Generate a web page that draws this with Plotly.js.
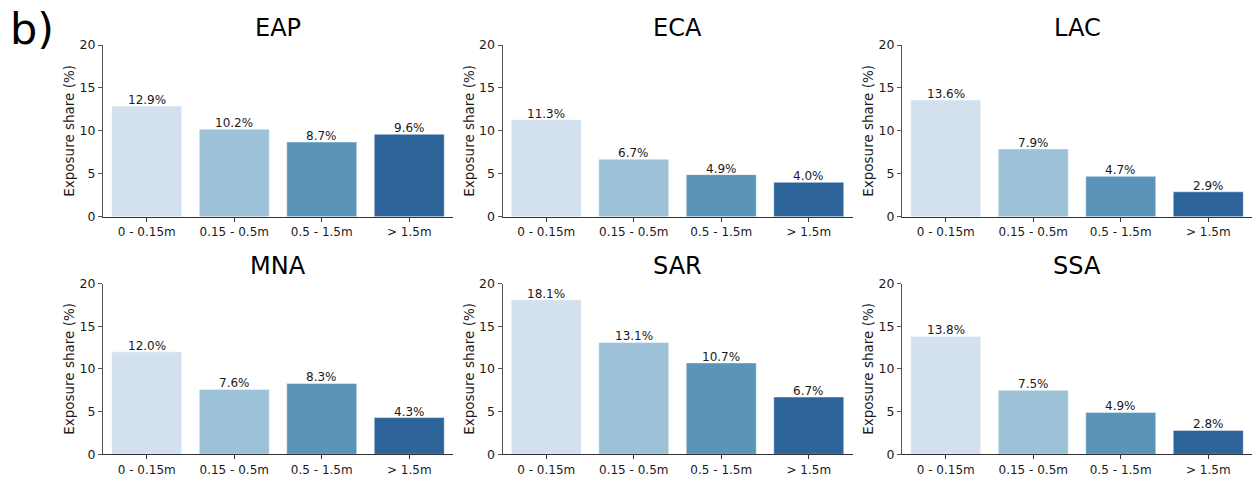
<!DOCTYPE html>
<html>
<head>
<meta charset="utf-8">
<script src="https://cdn.plot.ly/plotly-3.0.1.min.js"></script>
<style>html,body{margin:0;padding:0;background:#fff;}#chart{width:1256px;height:481px;}</style>
</head>
<body>
<div id="chart"></div>
<script>
// ---- data ----
const regions = ['EAP', 'ECA', 'LAC', 'MNA', 'SAR', 'SSA'];
const categories = ['0 - 0.15m', '0.15 - 0.5m', '0.5 - 1.5m', '> 1.5m'];
const EAP = [12.9, 10.2, 8.7, 9.6];
const ECA = [11.3, 6.7, 4.9, 4.0];
const LAC = [13.6, 7.9, 4.7, 2.9];
const MNA = [12.0, 7.6, 8.3, 4.3];
const SAR = [18.1, 13.1, 10.7, 6.7];
const SSA = [13.8, 7.5, 4.9, 2.8];
const yTicks = [0, 5, 10, 15, 20];
const panelLabel = 'b)';
const yTitle = 'Exposure share (%)';

// ---- style ----
const palette = ['#d3e1ee', '#9dc2d7', '#5b94b9', '#2c6399'];
const W = 1256, H = 481;
const colsPx = [[103, 453], [502.5, 852.5], [902, 1252]];
const rowsPx = [[45, 216.7], [283.5, 454.3]];
const FONT = 'DejaVu Sans, Verdana, sans-serif';

const series = [EAP, ECA, LAC, MNA, SAR, SSA];
const traces = [];
const layout = {
  width: W, height: H,
  margin: {l: 0, r: 0, t: 0, b: 0},
  paper_bgcolor: '#ffffff', plot_bgcolor: '#ffffff',
  showlegend: false,
  font: {family: FONT, color: '#1a1a1a', size: 12},
  annotations: []
};

series.forEach((vals, i) => {
  const r = Math.floor(i / 3), c = i % 3;
  const n = i + 1;
  const xa = 'x' + (n === 1 ? '' : n), ya = 'y' + (n === 1 ? '' : n);
  const xkey = 'xaxis' + (n === 1 ? '' : n), ykey = 'yaxis' + (n === 1 ? '' : n);
  traces.push({
    type: 'bar', x: categories, y: vals, xaxis: xa, yaxis: ya,
    width: 0.8,
    marker: {color: palette, line: {color: 'rgba(255,255,255,0.45)', width: 1}},
    hoverinfo: 'x+y'
  });
  const dom = [colsPx[c][0] / W, colsPx[c][1] / W];
  const ydom = [1 - rowsPx[r][1] / H, 1 - rowsPx[r][0] / H];
  layout[xkey] = {
    domain: dom, anchor: ya, type: 'category', range: [-0.5, 3.5],
    showline: true, linecolor: '#333', linewidth: 1,
    ticks: 'outside', ticklen: 4, tickcolor: '#333', showgrid: false, zeroline: false,
    tickfont: {family: FONT, size: 12, color: '#1a1a1a'}, fixedrange: true
  };
  layout[ykey] = {
    domain: ydom, anchor: xa, range: [0, 20], tickvals: yTicks,
    showline: true, linecolor: '#555', linewidth: 1,
    ticks: 'outside', ticklen: 4, tickcolor: '#555', showgrid: false, zeroline: false,
    tickfont: {family: FONT, size: 12.5, color: '#1a1a1a'}, fixedrange: true,
    title: {text: yTitle, font: {family: FONT, size: 13.5, color: '#1a1a1a'}, standoff: 1}
  };
  // value labels
  vals.forEach((v, k) => {
    layout.annotations.push({
      xref: xa, yref: ya, x: categories[k], y: v, text: v.toFixed(1) + '%',
      showarrow: false, yanchor: 'bottom', xanchor: 'center', yshift: -3,
      font: {family: FONT, size: 12, color: '#1a1a1a'}
    });
  });
  // subplot title
  layout.annotations.push({
    xref: 'paper', yref: 'paper', x: (dom[0] + dom[1]) / 2,
    y: 1 - (r === 0 ? 28.5 : 266) / H, yanchor: 'middle', xanchor: 'center',
    text: regions[i], showarrow: false,
    font: {family: FONT, size: 24, color: '#000'}
  });
});

layout.annotations.push({
  xref: 'paper', yref: 'paper', x: 8 / W, y: 1 - 2 / H, xanchor: 'left', yanchor: 'top',
  text: panelLabel, showarrow: false, font: {family: FONT, size: 43, color: '#000'}
});

Plotly.newPlot('chart', traces, layout, {staticPlot: true, displayModeBar: false});
</script>
</body>
</html>
